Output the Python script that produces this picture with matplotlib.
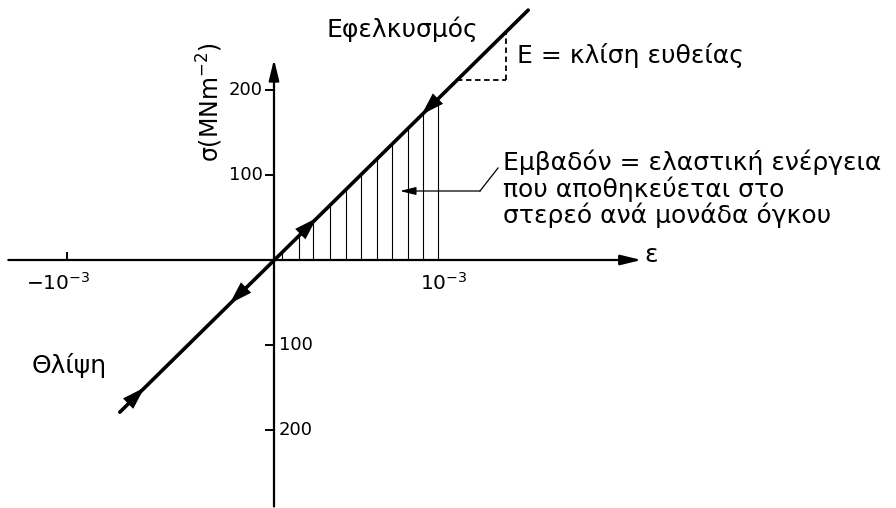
import numpy as np
import matplotlib
matplotlib.use('Agg')
import matplotlib.pyplot as plt

plt.rcParams['font.family'] = ['DejaVu Sans']
plt.rcParams['mathtext.fontset'] = 'dejavusans'

# strain in units of 1e-3, stress in MN/m^2
line_strain = [-0.94, 1.55]
line_stress = [-179, 294]

hatch_strain = [0.05, 0.15, 0.24, 0.34, 0.44, 0.53, 0.63, 0.72, 0.82, 0.91, 1.0]

arrows_loading = [0.26, -0.79]     # heads pointing up the line
arrows_unloading = [0.90, -0.27]   # heads pointing down the line

# slope triangle
tri_strain = [1.1, 1.415]
tri_stress = 212

y_ticks_pos = [100, 200]
y_ticks_neg = [-100, -200]
x_tick_labels = [r'$-10^{-3}$', r'$10^{-3}$']
x_tick_pos = [-1.26, 1.0]

x_axis_range = [-1.62, 2.24]
y_axis_range = [-290, 236]

# pixel layout: origin at (274, 260), 164 px per 1e-3 strain, 0.85 px per MN/m^2
px_x = 164
px_y = 0.85


def sy(py):
    # vertical figure pixel -> stress value
    return (260 - py) / px_y


def sx(px):
    return (px - 274) / px_x


fig = plt.figure(figsize=(8.96, 5.08), dpi=100)
ax = fig.add_axes([0, 0, 1, 1])
ax.set_xlim(sx(0), sx(896))
ax.set_ylim(sy(508), sy(0))
ax.axis('off')

head = dict(arrowstyle='-|>,head_length=0.9,head_width=0.22', color='black',
            lw=1.6, shrinkA=0, shrinkB=0, mutation_scale=14)

# axes with arrow heads
ax.annotate('', xy=(x_axis_range[1], 0), xytext=(x_axis_range[0], 0), arrowprops=head)
ax.annotate('', xy=(0, y_axis_range[1]), xytext=(0, y_axis_range[0]), arrowprops=head)

# tick marks
for v in y_ticks_pos + y_ticks_neg:
    ax.plot([-0.05, 0], [v, v], color='black', lw=1.4)
ax.plot([x_tick_pos[0], x_tick_pos[0]], [0, 8], color='black', lw=1.4)

for v in y_ticks_pos:
    ax.text(sx(263), v, str(v), ha='right', va='center', fontsize=13)
for v in y_ticks_neg:
    ax.text(sx(279), v, str(abs(v)), ha='left', va='center', fontsize=13)

ax.text(sx(58), sy(290), x_tick_labels[0], ha='center', va='baseline', fontsize=14.5)
ax.text(sx(444), sy(290), x_tick_labels[1], ha='center', va='baseline', fontsize=14.5)

# hatched area under the line
hatch_top = np.interp(hatch_strain, line_strain, line_stress)
for s, t in zip(hatch_strain, hatch_top):
    ax.plot([s, s], [0, t], color='black', lw=0.8)

# stress-strain line
ax.plot(line_strain, line_stress, color='black', lw=2.6, solid_capstyle='round')

slope = (line_stress[1] - line_stress[0]) / (line_strain[1] - line_strain[0])
mid_head = dict(arrowstyle='-|>,head_length=1.1,head_width=0.35', color='black',
                lw=0, shrinkA=0, shrinkB=0, mutation_scale=15)
d = 0.06
for s in arrows_loading:
    ax.annotate('', xy=(s, slope * s), xytext=(s - d, slope * (s - d)), arrowprops=mid_head)
for s in arrows_unloading:
    ax.annotate('', xy=(s, slope * s), xytext=(s + d, slope * (s + d)), arrowprops=mid_head)

# slope triangle
x0 = tri_stress / slope
ax.plot([x0, tri_strain[1]], [tri_stress, tri_stress], color='black', lw=1.3, ls=(0, (3, 2)))
ax.plot([tri_strain[1], tri_strain[1]], [tri_stress, slope * tri_strain[1]],
        color='black', lw=1.3, ls=(0, (3, 2)))

# leader for the area label
ax.annotate('', xy=(sx(400), sy(191)), xytext=(sx(480), sy(191)),
            arrowprops=dict(arrowstyle='-|>,head_length=0.8,head_width=0.2', color='black',
                            lw=0.9, shrinkA=0, shrinkB=0, mutation_scale=12))
ax.plot([sx(480), sx(498)], [sy(191), sy(168)], color='black', lw=0.9)

# labels
ax.text(sx(402), sy(37), 'Εφελκυσμός', ha='center', va='baseline', fontsize=18)
ax.text(sx(517), sy(63), 'E = κλίση ευθείας', ha='left', va='baseline', fontsize=18)
ax.text(sx(503), sy(223),
        'Εμβαδόν = ελαστική ενέργεια\nπου αποθηκεύεται στο\nστερεό ανά μονάδα όγκου',
        ha='left', va='baseline', fontsize=18, linespacing=1.04)
ax.text(sx(32), sy(373), 'Θλίψη', ha='left', va='baseline', fontsize=18)
ax.text(sx(651), sy(255), 'ε', ha='center', va='center', fontsize=18)
ax.text(sx(210), sy(102), r'σ(MNm$^{-2}$)', ha='center', va='center',
        rotation=90, fontsize=17)

fig.savefig('out.png', dpi=100)
